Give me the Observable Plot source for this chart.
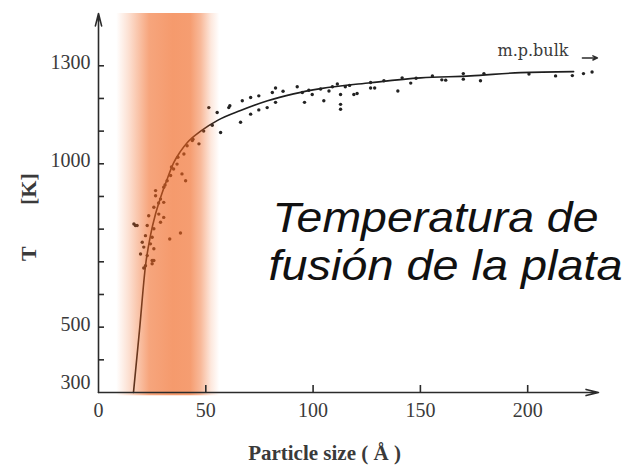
<!DOCTYPE html>
<html>
<head>
<meta charset="utf-8">
<script src="https://cdn.jsdelivr.net/npm/d3@7"></script>
<script src="https://cdn.jsdelivr.net/npm/@observablehq/plot@0.6"></script>
<style>
  html, body { margin: 0; padding: 0; background: #ffffff; }
  #chart { width: 639px; height: 472px; }
</style>
</head>
<body>
<div id="chart"></div>
<script>
// ---- data ----
const curveSize = [16.3, 19.1, 21.9, 24.2, 26.6, 28.9, 31.7, 35.0, 38.2, 41.5, 47.6, 55.5, 66.2, 78.8, 90.9, 103.5, 126.8, 150.1, 173.4, 196.7, 221.4];
const curveTemp = [300, 490, 688, 780, 847, 896, 948, 1003, 1038, 1066, 1100, 1133, 1163, 1193, 1214, 1230, 1248, 1263, 1269, 1279, 1282];

const pointSize = [17.2, 16.5, 18.0, 19.6, 20.4, 21.1, 21.1, 21.9, 21.9, 22.7, 22.7, 23.4, 24.2, 25.0, 25.0, 25.0, 25.8, 25.8, 25.8, 25.8, 26.6, 26.6, 28.1, 28.9, 28.9, 30.4, 30.4, 30.4, 32.0, 33.2, 33.6, 35.0, 36.6, 38.2, 38.9, 39.8, 40.6, 41.3, 43.7, 46.8,
  28.0, 31.0, 34.0, 37.0, 44.0, 49.0, 53.0,
  51.4, 55.3, 56.9, 60.7, 61.2, 66.2, 67.0, 70.9, 70.9, 74.7, 74.7, 78.6, 81.0, 82.5, 82.5, 86.0, 92.6, 95.0, 96.0, 98.0, 99.6, 103.5, 105.0, 107.4, 109.0, 111.3, 112.8, 112.8, 112.8, 115.0, 117.0, 119.0, 120.5,
  126.8, 126.8, 128.7, 133.0, 139.5, 141.5, 145.5, 148.0, 155.6, 160.0, 161.8, 170.0, 170.0, 178.0, 179.6, 200.6, 213.0, 220.8, 226.0, 230.0];
const pointTemp = [811, 816, 811, 724, 760, 745, 681, 780, 688, 719, 811, 841, 755, 775, 694, 704, 740, 704, 801, 867, 918, 902, 846, 892, 821, 928, 882, 836, 948, 770, 964, 984, 999, 788, 969, 1030, 948, 1055, 1071, 1061,
  880, 935, 990, 1020, 1075, 1100, 1118,
  1172, 1157, 1096, 1172, 1178, 1127, 1193, 1203, 1152, 1208, 1165, 1172, 1218, 1232, 1188, 1222, 1236, 1218, 1188, 1225, 1212, 1229, 1193, 1223, 1236, 1244, 1212, 1182, 1167, 1236, 1240, 1212, 1215,
  1249, 1232, 1232, 1254, 1223, 1263, 1247, 1262, 1269, 1257, 1256, 1276, 1259, 1254, 1276, 1275, 1269, 1270, 1276, 1281];

const xTickValues = [0, 50, 100, 150, 200];
const yMinorTicks = [400, 500, 600, 700, 800, 900, 1000, 1100, 1200, 1300];
const yTickLabels = [500, 1000, 1300];
const yBottomLabel = [300];

const bandRange = [8.5, 56.5];          // highlighted size range (Å)
const bulkLabel = "m.p.bulk";
const bulkTemp = 1324;
const bulkArrow = [225.5, 232.5];

const titleLines = ["Temperatura de", "fusión de la plata"];
const titleWidths = [326, 354];
const xLabel = "Particle size ( Å )";
const yLabelT = "T";
const yLabelK = "[K]";

// ---- layout ----
const W = 639, H = 472;
const mL = 98, mR = 41, mT = 13, mB = 80;
const xDom = [0, 233], yDom = [300, 1460];
const pxPerX = (W - mL - mR) / (xDom[1] - xDom[0]);
const pxPerY = (H - mT - mB) / (yDom[1] - yDom[0]);
const xTickLen = 6 / pxPerX;
const yTickLen = 7 / pxPerY;

const serif = "'Liberation Serif', 'Times New Roman', serif";
const sans = "'Liberation Sans', Arial, sans-serif";
const ink = "#2b2b2b";

const points = pointSize.map((d, i) => ({size: d, temp: pointTemp[i]}));
const curve = curveSize.map((d, i) => ({size: d, temp: curveTemp[i]}));

const chart = Plot.plot({
  width: W, height: H,
  marginLeft: mL, marginRight: mR, marginTop: mT, marginBottom: mB,
  x: {domain: xDom, axis: null},
  y: {domain: yDom, axis: null},
  style: {background: "#ffffff", overflow: "visible"},
  marks: [
    Plot.line(curve, {x: "size", y: "temp", stroke: "#1e1e1e", strokeWidth: 1.6, curve: "monotone-x"}),
    Plot.dot(points, {x: "size", y: "temp", r: 1.7, fill: "#222", stroke: "none"}),
    // highlighted band drawn on top (semi-transparent overlay)
    Plot.rect([bandRange], {x1: d => d[0], x2: d => d[1], y1: yDom[0] - 10, y2: yDom[1], fill: "url(#bandGrad)"}),
    // axes
    Plot.arrow([{x1: 0, y1: yDom[0], x2: 0, y2: yDom[1]}], {x1: "x1", y1: "y1", x2: "x2", y2: "y2", stroke: ink, strokeWidth: 1.6, headLength: 12, headAngle: 28}),
    Plot.arrow([{x1: 0, y1: yDom[0], x2: xDom[1], y2: yDom[0]}], {x1: "x1", y1: "y1", x2: "x2", y2: "y2", stroke: ink, strokeWidth: 1.6, headLength: 12, headAngle: 28}),
    Plot.ruleY(yMinorTicks, {y: d => d, x1: 0, x2: xTickLen, stroke: ink, strokeWidth: 1.6}),
    Plot.ruleX(xTickValues.filter(d => d > 0), {x: d => d, y1: yDom[0], y2: yDom[0] + yTickLen, stroke: ink, strokeWidth: 1.6}),
    Plot.text(yTickLabels, {x: 0, y: d => d, text: d => String(d), textAnchor: "end", dx: -8, dy: -3, fontSize: 20, fontFamily: serif, fill: "#3a3a3a"}),
    Plot.text(yBottomLabel, {x: 0, y: d => d, text: d => String(d), textAnchor: "end", dx: -8, dy: -10, fontSize: 20, fontFamily: serif, fill: "#3a3a3a"}),
    Plot.text(xTickValues, {x: d => d, y: yDom[0], text: d => String(d), dy: 18, fontSize: 20, fontFamily: serif, fill: "#3a3a3a"}),
    // axis titles
    Plot.text([xLabel], {frameAnchor: "bottom", dy: 67, dx: -24, text: d => d, fontSize: 21, fontWeight: "bold", fontFamily: serif, fill: "#3a3a3a"}),
    Plot.text([yLabelT], {frameAnchor: "left", dx: -70, dy: 58, rotate: -90, text: d => d, fontSize: 22, fontWeight: "bold", fontFamily: serif, fill: "#3a3a3a"}),
    Plot.text([yLabelK], {frameAnchor: "left", dx: -70, dy: 2, rotate: -90, text: d => d, fontSize: 22, fontWeight: "bold", fontFamily: serif, fill: "#3a3a3a"}),
    // bulk melting point annotation
    Plot.text([bulkLabel], {x: 219, y: bulkTemp, text: d => d, textAnchor: "end", lineAnchor: "bottom", dy: -2, fontSize: 16, fontFamily: "'DejaVu Serif', serif", fill: "#3a3a3a"}),
    Plot.arrow([bulkArrow], {x1: d => d[0], x2: d => d[1], y1: bulkTemp, y2: bulkTemp, stroke: ink, strokeWidth: 1.5, headLength: 5, headAngle: 50}),
    // overlay title
    Plot.text([titleLines[0]], {frameAnchor: "top-left", dx: 174, dy: 218, lineAnchor: "bottom", textAnchor: "start", text: d => d, fontSize: 43, fontStyle: "italic", fontFamily: sans, fill: "#111"}),
    Plot.text([titleLines[1]], {frameAnchor: "top-left", dx: 170, dy: 266, lineAnchor: "bottom", textAnchor: "start", text: d => d, fontSize: 43, fontStyle: "italic", fontFamily: sans, fill: "#111"})
  ]
});

// gradient definition for the highlighted band
const svg = d3.select(chart);
const defs = svg.insert("defs", ":first-child");
const grad = defs.append("linearGradient").attr("id", "bandGrad").attr("x1", "0").attr("x2", "1").attr("y1", "0").attr("y2", "0");
[[0, 0], [0.12, 0.2], [0.25, 0.45], [0.32, 0.58], [0.55, 0.65], [0.72, 0.63], [0.82, 0.45], [0.92, 0.15], [1, 0]].forEach(([o, a]) => {
  grad.append("stop").attr("offset", o).attr("stop-color", "#f0641e").attr("stop-opacity", a);
});

// stretch title lines to the reference's wider setting
svg.selectAll("text").each(function() {
  const i = titleLines.indexOf(this.textContent);
  if (i >= 0) {
    this.setAttribute("textLength", titleWidths[i]);
    this.setAttribute("lengthAdjust", "spacingAndGlyphs");
  }
});

document.getElementById("chart").appendChild(chart);
</script>
</body>
</html>
